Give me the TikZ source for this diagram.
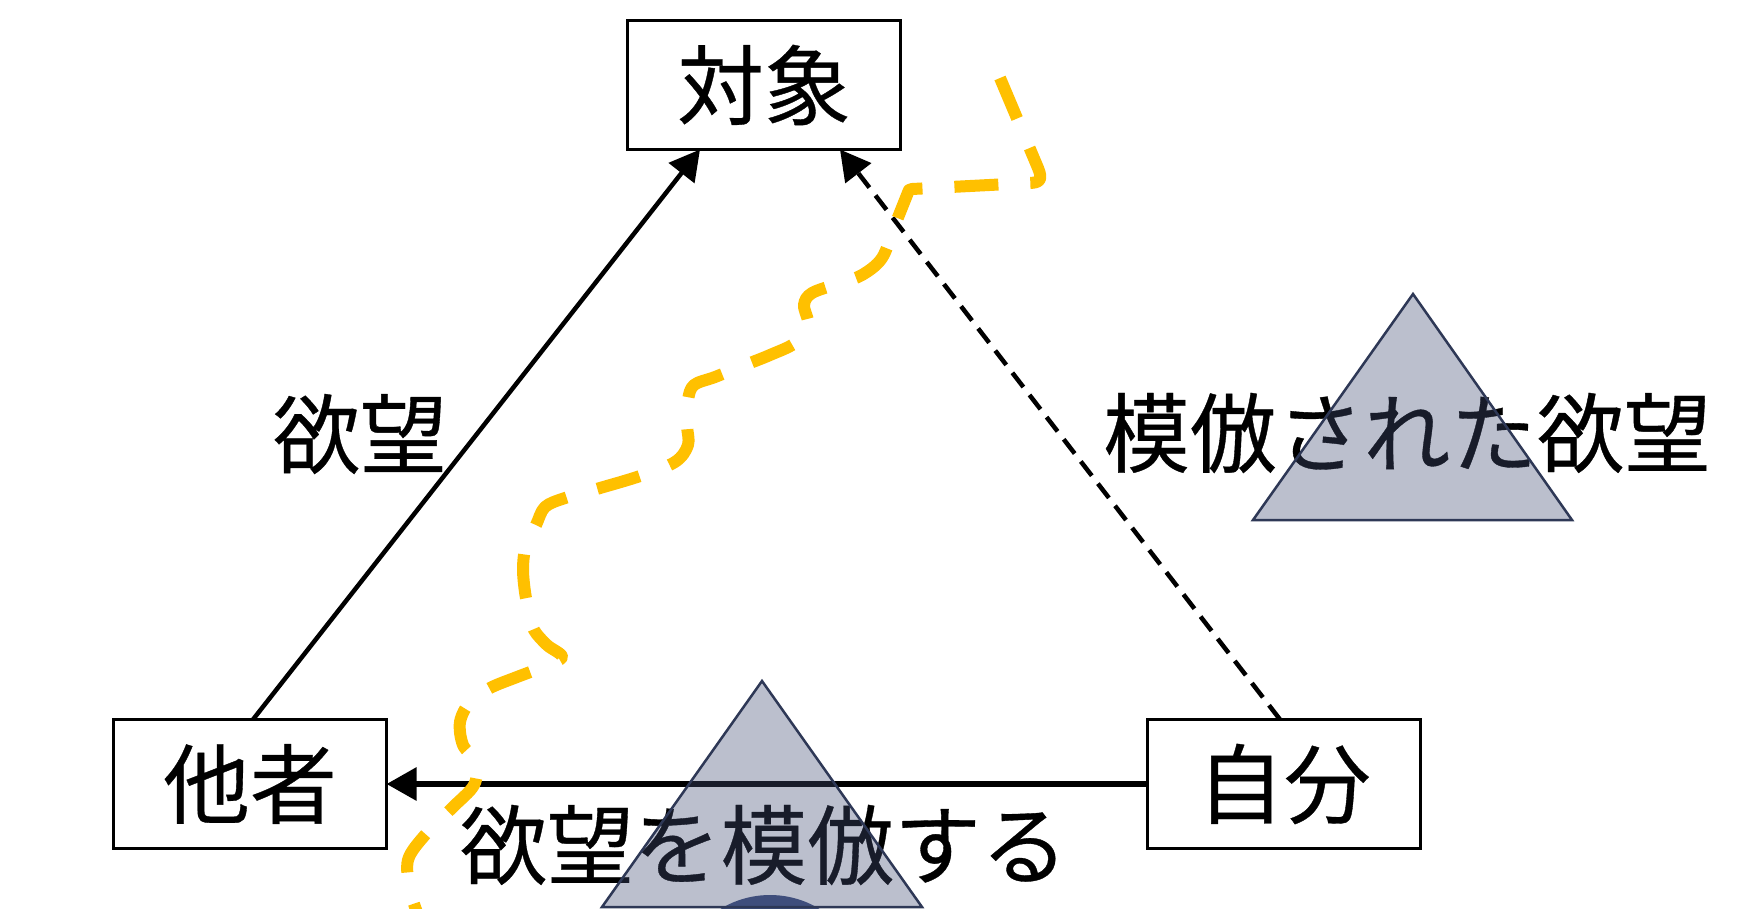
\documentclass[tikz,border=0pt]{standalone}
\usepackage{fontspec}
\newfontfamily\jp[FakeBold=0.4]{Noto Sans CJK JP}
\usetikzlibrary{arrows.meta,calc}
\definecolor{triFill}{RGB}{67,78,117}
\definecolor{triLine}{RGB}{46,56,86}
\definecolor{circFill}{RGB}{61,78,128}
\definecolor{gold}{RGB}{255,192,0}
\begin{document}
\begin{tikzpicture}[x=0.1mm,y=-0.1mm,
  jpfont/.style={font=\jp\fontsize{24.7pt}{30pt}\selectfont},
  box/.style={jpfont,draw=black,line width=0.3mm,minimum width=27.3mm,minimum height=12.9mm,inner sep=0pt,outer sep=0pt,fill=white},
  lbl/.style={jpfont,inner sep=0pt},
  tip/.style={-{Triangle[length=3mm,width=3.2mm]}},
  solidarrow/.style={tip,line width=0.45mm},
  dasharrow/.style={tip,line width=0.45mm,dash pattern=on 1.8mm off 1mm},
  mainarrow/.style={tip,line width=0.6mm},
  tri/.style={fill=triFill,fill opacity=0.36,draw=triLine,draw opacity=1,line width=0.25mm,line join=miter},
  goldpath/.style={draw=gold,line width=1.2mm,dash pattern=on 4.4mm off 3.2mm,line cap=butt,line join=round}
]
\clip (0,0) rectangle (1762,908);
\fill[white] (0,0) rectangle (1762,908);

% boxes
\node[box] (obj) at (764,85) {対象};
\node[box] (other) at (250,784) {他者};
\node[box] (self) at (1284,784) {自分};

% connectors
\draw[solidarrow] ([xshift=0.3mm]other.north) -- ([xshift=-6.4mm]obj.south);
\draw[dasharrow] ([xshift=-0.4mm]self.north) -- ([xshift=7.6mm]obj.south);
\draw[mainarrow] (self.west) -- (other.east);

% labels
\node[lbl] (l1) at (360,434) {欲望};
\node[lbl] (l2) at (1407,433) {模倣された欲望};
\node[lbl] (l3) at (764,845) {欲望を模倣する};

% circle and triangles
\fill[circFill] (770,990) circle (95);
\path[tri] (1413,294) -- (1253,520) -- (1572,520) -- cycle;
\path[tri] (762,681) -- (602,907) -- (922,907) -- cycle;

% yellow dashed freehand path
\draw[goldpath] (1000,78) -- (1038,168) .. controls (1043,180) and (1040,183) .. (1028,183) -- (912,189)
  -- plot[smooth,tension=0.55] coordinates {(909,190) (895,225) (882,258) (862,275) (840,283) (812,293) (804,305) (808,325) (795,343) (770,355) (745,365) (715,377) (694,385) (688,400) (687,425) (688,445) (675,462) (640,476) (600,488) (565,498) (545,507) (536,525) (526,545) (523,568) (525,592) (529,612) (534,630) (547,645) (562,657) (543,667) (517,677) (490,688) (470,702) (460,722) (463,745) (476,762) (474,785) (452,808) (425,835) (408,860) (410,890) (418,915)};
\end{tikzpicture}
\end{document}
